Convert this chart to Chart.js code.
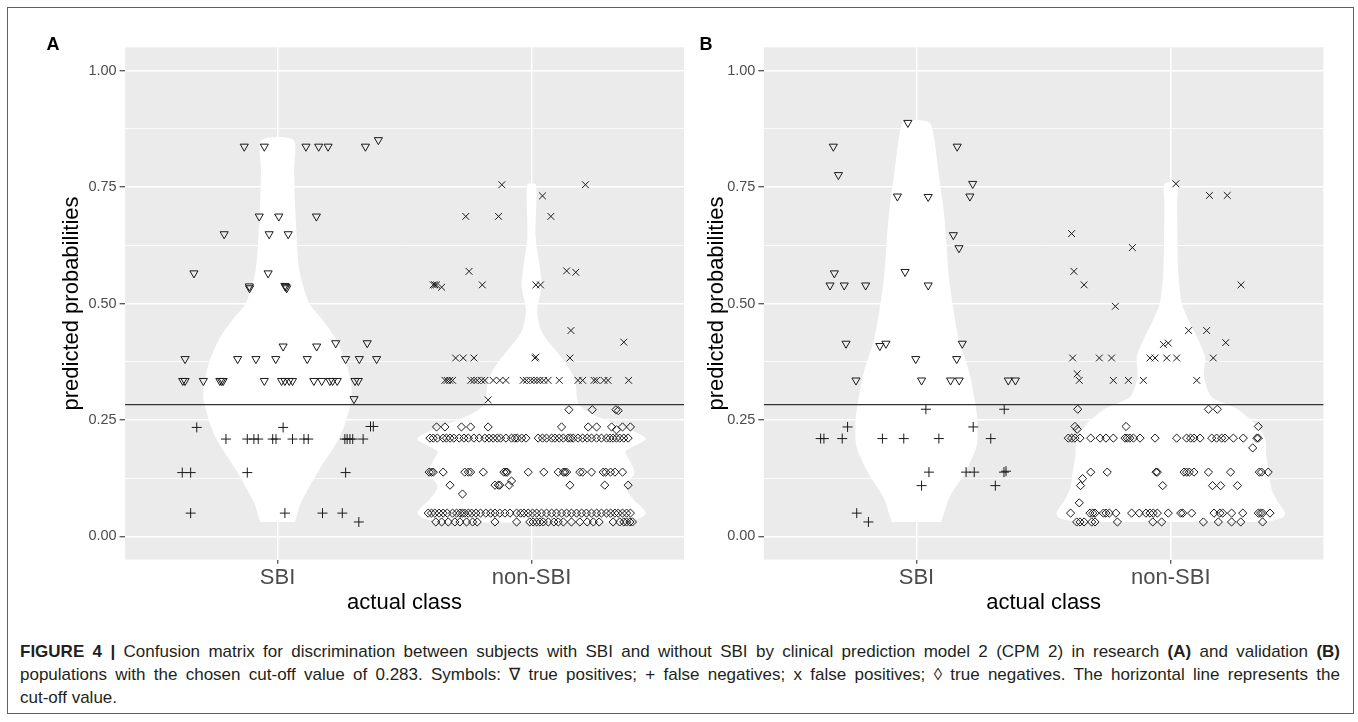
<!DOCTYPE html>
<html>
<head>
<meta charset="utf-8">
<script src="https://cdn.jsdelivr.net/npm/chart.js@4.4.1/dist/chart.umd.min.js"></script>
<style>
html,body{margin:0;padding:0;background:#fff;width:1358px;height:722px;overflow:hidden;font-family:"Liberation Sans",Arial,sans-serif;}
#frame{position:absolute;left:7px;top:7px;width:1347px;height:707px;border:1.5px solid #606060;box-sizing:border-box;}
#cA{position:absolute;left:0;top:0;}
#cB{position:absolute;left:690px;top:0;}
.lab{position:absolute;font-weight:bold;font-size:18px;line-height:18px;color:#000;}
#caption{position:absolute;left:20px;top:640px;width:1320px;font-size:17px;line-height:23px;color:#231f20;}
.jl{text-align:justify;text-align-last:justify;white-space:nowrap;}
.ll{text-align:left;white-space:nowrap;}
</style>
</head>
<body>
<div id="frame"></div>
<canvas id="cA" width="690" height="640"></canvas>
<canvas id="cB" width="668" height="640"></canvas>
<div class="lab" style="left:46.5px;top:35px;">A</div>
<div class="lab" style="left:699.5px;top:35px;">B</div>
<div id="caption">
<div class="jl"><b>FIGURE 4 |</b> Confusion matrix for discrimination between subjects with SBI and without SBI by clinical prediction model 2 (CPM 2) in research <b>(A)</b> and validation <b>(B)</b></div>
<div class="jl">populations with the chosen cut-off value of 0.283. Symbols: ∇ true positives; + false negatives; x false positives; ◊ true negatives. The horizontal line represents the</div>
<div class="ll">cut-off value.</div>
</div>
<script>
// ---------- shared axis data ----------
const categories = ['SBI', 'non-SBI'];
const yTickValues = [0, 0.25, 0.5, 0.75, 1.0];
const yTickLabels = ['0.00', '0.25', '0.50', '0.75', '1.00'];
const yMinorValues = [0.125, 0.375, 0.625, 0.875];
const cutoff = 0.283;
const xTitle = 'actual class';
const yTitle = 'predicted probabilities';

// ---------- Panel A (research) : [jittered class position, predicted probability] ----------
const tpA = [
[0.869,0.837],[0.948,0.837],[1.112,0.837],[1.162,0.837],[1.199,0.837],[1.346,0.837],[1.397,0.851],
[0.928,0.687],[1.005,0.687],[1.153,0.687],
[0.790,0.649],[0.967,0.649],[1.042,0.649],
[0.671,0.565],[0.963,0.565],
[0.889,0.537],[0.890,0.533],[1.029,0.538],[1.033,0.536],[1.036,0.533],
[1.022,0.408],[1.154,0.408],[1.229,0.415],[1.353,0.415],
[0.636,0.381],[0.843,0.381],[0.915,0.381],[0.993,0.381],[1.117,0.381],[1.268,0.381],[1.322,0.381],[1.390,0.381],
[0.627,0.334],[0.636,0.334],[0.708,0.334],[0.773,0.334],[0.780,0.334],[0.786,0.334],[0.948,0.334],[1.016,0.334],[1.029,0.334],[1.046,0.334],[1.059,0.334],[1.143,0.334],[1.174,0.334],[1.206,0.334],[1.217,0.334],[1.235,0.334],[1.305,0.334],[1.318,0.334],
[1.301,0.295]
];
const fnA = [
[0.682,0.234],[1.022,0.234],[1.366,0.236],[1.377,0.236],
[0.797,0.209],[0.881,0.209],[0.907,0.209],[0.924,0.209],[0.981,0.209],[0.994,0.209],[1.059,0.209],[1.104,0.209],[1.121,0.209],[1.265,0.209],[1.274,0.209],[1.285,0.209],[1.296,0.209],[1.337,0.209],
[0.625,0.137],[0.658,0.137],[0.881,0.137],[1.268,0.137],
[0.658,0.050],[1.029,0.050],[1.177,0.050],[1.255,0.050],
[1.320,0.031]
];
const fpA = [
[1.883,0.755],[2.212,0.755],[2.043,0.731],
[1.741,0.687],[1.870,0.687],[2.076,0.687],
[1.754,0.569],[2.138,0.570],[2.174,0.567],
[1.613,0.540],[1.619,0.540],[1.626,0.540],[1.646,0.535],[1.806,0.540],[2.017,0.540],[2.035,0.540],
[2.155,0.442],[2.363,0.417],
[1.701,0.383],[1.731,0.383],[1.773,0.383],[2.013,0.383],[2.017,0.385],[2.151,0.383],
[1.659,0.335],[1.668,0.335],[1.678,0.335],[1.689,0.335],[1.761,0.335],[1.773,0.335],[1.786,0.335],[1.803,0.335],[1.816,0.335],[1.849,0.335],[1.875,0.335],[1.899,0.335],[1.967,0.335],[1.980,0.335],[1.996,0.335],[2.009,0.335],[2.022,0.335],[2.033,0.335],[2.048,0.335],[2.065,0.335],[2.109,0.335],[2.183,0.335],[2.201,0.335],[2.246,0.335],[2.256,0.335],[2.285,0.335],[2.301,0.335],[2.382,0.335],
[1.829,0.293]
];
const tnA = [
[2.147,0.272],[2.239,0.272],[2.332,0.272],[2.341,0.270],
[1.626,0.235],[1.659,0.235],[1.724,0.235],[1.760,0.235],[1.829,0.235],[2.118,0.235],[2.223,0.235],[2.256,0.235],[2.315,0.235],[2.334,0.229],[2.358,0.235],[2.389,0.235],
[1.600,0.211],[1.613,0.211],[1.629,0.211],[1.652,0.211],[1.665,0.211],[1.679,0.211],[1.694,0.211],[1.715,0.211],[1.734,0.211],[1.751,0.211],[1.773,0.211],[1.794,0.211],[1.816,0.211],[1.833,0.211],[1.849,0.211],[1.865,0.211],[1.878,0.211],[1.899,0.211],[1.921,0.211],[1.934,0.211],[1.944,0.211],[1.961,0.211],[1.978,0.211],[2.026,0.211],[2.043,0.211],[2.059,0.211],[2.079,0.211],[2.092,0.211],[2.109,0.211],[2.125,0.211],[2.144,0.211],[2.153,0.211],[2.164,0.211],[2.183,0.211],[2.201,0.211],[2.219,0.211],[2.236,0.211],[2.256,0.211],[2.275,0.211],[2.295,0.211],[2.308,0.211],[2.321,0.211],[2.334,0.211],[2.347,0.211],[2.363,0.211],[2.380,0.211],
[1.597,0.138],[1.606,0.138],[1.613,0.138],[1.652,0.138],[1.737,0.138],[1.751,0.138],[1.760,0.138],[1.810,0.138],[1.891,0.138],[1.899,0.138],[1.904,0.138],[1.987,0.138],[2.048,0.138],[2.105,0.138],[2.125,0.138],[2.131,0.138],[2.138,0.138],[2.190,0.138],[2.201,0.138],[2.236,0.138],[2.282,0.138],[2.292,0.138],[2.311,0.138],[2.328,0.138],[2.358,0.138],
[1.679,0.110],[1.856,0.110],[1.869,0.110],[1.875,0.110],[1.912,0.110],[1.921,0.119],[2.151,0.110],[2.288,0.110],[2.380,0.110],
[1.728,0.091],
[1.593,0.050],[1.606,0.050],[1.619,0.050],[1.636,0.050],[1.652,0.050],[1.668,0.050],[1.689,0.050],[1.705,0.050],[1.718,0.050],[1.728,0.050],[1.737,0.050],[1.751,0.050],[1.764,0.050],[1.781,0.050],[1.799,0.050],[1.820,0.050],[1.839,0.050],[1.856,0.050],[1.875,0.050],[1.895,0.050],[1.915,0.050],[1.941,0.050],[1.957,0.050],[1.970,0.050],[1.987,0.050],[2.004,0.050],[2.020,0.050],[2.039,0.050],[2.059,0.050],[2.079,0.050],[2.098,0.050],[2.118,0.050],[2.138,0.050],[2.157,0.050],[2.177,0.050],[2.197,0.050],[2.216,0.050],[2.236,0.050],[2.256,0.050],[2.275,0.050],[2.295,0.050],[2.311,0.050],[2.328,0.050],[2.341,0.050],[2.358,0.050],[2.374,0.050],[2.389,0.050],
[1.623,0.031],[1.646,0.031],[1.672,0.031],[1.698,0.031],[1.718,0.031],[1.744,0.031],[1.768,0.031],[1.786,0.031],[1.856,0.031],[1.941,0.031],[1.993,0.031],[2.006,0.031],[2.020,0.031],[2.033,0.031],[2.046,0.031],[2.066,0.031],[2.088,0.031],[2.105,0.031],[2.125,0.031],[2.157,0.031],[2.190,0.031],[2.219,0.031],[2.243,0.031],[2.266,0.031],[2.321,0.031],[2.347,0.031],[2.363,0.031],[2.374,0.031],[2.387,0.031],[2.397,0.031]
];
// violin outlines (probability level, half width in class units)
const violinA_SBI_y  = [0.031, 0.072, 0.143, 0.215, 0.286, 0.322, 0.379, 0.429, 0.470, 0.501, 0.572, 0.700, 0.787, 0.851];
const violinA_SBI_hw = [0.069, 0.092, 0.164, 0.246, 0.289, 0.291, 0.266, 0.224, 0.170, 0.124, 0.086, 0.070, 0.065, 0.063];
const violinA_non_y  = [0.030, 0.040, 0.050, 0.065, 0.080, 0.107, 0.136, 0.160, 0.182, 0.209, 0.229, 0.250, 0.270, 0.286, 0.336, 0.372, 0.401, 0.422, 0.444, 0.486, 0.536, 0.572, 0.644, 0.755];
const violinA_non_hw = [0.36, 0.43, 0.45, 0.43, 0.40, 0.37, 0.405, 0.39, 0.37, 0.45, 0.39, 0.29, 0.215, 0.183, 0.171, 0.134, 0.092, 0.060, 0.036, 0.022, 0.039, 0.034, 0.016, 0.017];

// ---------- Panel B (validation) ----------
const tpB = [
[0.966,0.888],
[0.673,0.837],[1.160,0.837],[0.693,0.776],[1.221,0.757],
[0.925,0.730],[1.046,0.729],[1.210,0.730],
[1.145,0.647],[1.167,0.619],
[0.677,0.565],[0.955,0.568],
[0.660,0.539],[0.716,0.539],[0.800,0.539],[1.046,0.539],
[0.723,0.414],[0.856,0.409],[0.880,0.414],[1.180,0.414],
[0.997,0.381],[1.158,0.381],
[0.762,0.335],[1.020,0.335],[1.134,0.335],[1.168,0.335],[1.361,0.335],[1.389,0.335]
];
const fnB = [
[1.037,0.273],[1.345,0.273],
[0.729,0.235],[1.223,0.235],
[0.623,0.210],[0.636,0.210],[0.708,0.210],[0.866,0.210],[0.950,0.210],[1.088,0.210],[1.292,0.210],
[1.049,0.138],[1.195,0.138],[1.227,0.138],[1.344,0.138],[1.352,0.140],
[1.020,0.109],[1.310,0.109],
[0.765,0.050],[0.811,0.031]
];
const fpB = [
[2.020,0.757],[2.152,0.732],[2.222,0.732],
[1.610,0.650],[1.849,0.620],
[1.619,0.569],[1.659,0.540],[2.276,0.540],
[1.782,0.494],
[2.070,0.442],[2.141,0.442],[2.216,0.416],
[1.971,0.412],[1.990,0.415],
[1.614,0.383],[1.719,0.383],[1.767,0.383],[1.918,0.383],[1.938,0.383],[1.984,0.383],[2.023,0.383],[2.167,0.383],
[1.632,0.349],
[1.640,0.335],[1.774,0.335],[1.833,0.335],[1.892,0.335],[2.102,0.335]
];
const tnB = [
[1.634,0.273],[2.148,0.273],[2.183,0.273],
[1.623,0.236],[1.632,0.230],[1.824,0.236],[2.344,0.236],
[1.597,0.211],[1.610,0.211],[1.623,0.211],[1.643,0.211],[1.685,0.211],[1.722,0.211],[1.745,0.211],[1.774,0.211],[1.820,0.211],[1.829,0.211],[1.839,0.211],[1.853,0.211],[1.879,0.211],[1.938,0.211],[2.023,0.211],[2.062,0.211],[2.078,0.211],[2.091,0.211],[2.115,0.211],[2.161,0.211],[2.180,0.211],[2.200,0.211],[2.213,0.211],[2.246,0.211],[2.285,0.211],[2.338,0.211],[2.344,0.211],
[2.322,0.190],
[1.685,0.138],[1.750,0.138],[1.942,0.138],[1.947,0.138],[2.052,0.138],[2.062,0.138],[2.073,0.138],[2.091,0.138],[2.148,0.138],[2.235,0.138],[2.348,0.138],[2.357,0.138],[2.383,0.138],
[1.653,0.124],
[1.645,0.109],[1.968,0.109],[2.164,0.109],[2.196,0.109],[2.262,0.109],
[1.640,0.072],
[1.606,0.050],[1.682,0.050],[1.693,0.050],[1.702,0.050],[1.735,0.050],[1.745,0.050],[1.758,0.050],[1.784,0.050],[1.846,0.050],[1.876,0.050],[1.902,0.050],[1.918,0.050],[1.931,0.050],[1.947,0.050],[1.990,0.050],[2.039,0.050],[2.047,0.050],[2.082,0.050],[2.170,0.050],[2.193,0.050],[2.204,0.050],[2.239,0.050],[2.283,0.050],[2.344,0.050],[2.353,0.050],[2.361,0.050],[2.390,0.050],
[1.630,0.031],[1.643,0.031],[1.659,0.031],[1.689,0.031],[1.702,0.031],[1.790,0.031],[1.929,0.031],[1.964,0.031],[2.128,0.031],[2.187,0.031],[2.239,0.031],[2.275,0.031],[2.361,0.031]
];
const violinB_SBI_y  = [0.031, 0.085, 0.136, 0.193, 0.243, 0.279, 0.351, 0.422, 0.494, 0.565, 0.637, 0.708, 0.780, 0.851, 0.889];
const violinB_SBI_hw = [0.097, 0.131, 0.190, 0.236, 0.240, 0.233, 0.208, 0.167, 0.143, 0.126, 0.117, 0.105, 0.087, 0.070, 0.050];
const violinB_non_y  = [0.031, 0.040, 0.050, 0.075, 0.104, 0.140, 0.175, 0.211, 0.247, 0.275, 0.300, 0.343, 0.386, 0.429, 0.465, 0.501, 0.572, 0.715, 0.757];
const violinB_non_hw = [0.38, 0.44, 0.45, 0.42, 0.395, 0.385, 0.375, 0.37, 0.32, 0.256, 0.16, 0.131, 0.134, 0.102, 0.069, 0.043, 0.029, 0.025, 0.025];

// ---------- rendering ----------
Chart.defaults.font.family = '"Liberation Sans", Arial, sans-serif';

function toXY(arr){ return arr.map(p => ({x: p[0], y: p[1]})); }
function violinOutline(center, ys, hws){
  const pts = [];
  for (let i = 0; i < ys.length; i++) pts.push({x: center + hws[i], y: ys[i]});
  for (let i = ys.length - 1; i >= 0; i--) pts.push({x: center - hws[i], y: ys[i]});
  return pts;
}

const panelBg = {
  id: 'panelBg',
  beforeDraw(chart){
    const {ctx, chartArea: a} = chart;
    ctx.save(); ctx.fillStyle = '#EBEBEB';
    ctx.fillRect(a.left, a.top, a.right - a.left, a.bottom - a.top);
    ctx.restore();
  }
};
const cutoffLine = {
  id: 'cutoffLine',
  afterDatasetsDraw(chart){
    const {ctx, chartArea: a} = chart;
    const y = chart.scales.y.getPixelForValue(cutoff);
    ctx.save(); ctx.strokeStyle = '#333333'; ctx.lineWidth = 1.3;
    ctx.beginPath(); ctx.moveTo(a.left, y); ctx.lineTo(a.right, y); ctx.stroke();
    ctx.restore();
  }
};

function isMajor(v){ return yTickValues.indexOf(v) >= 0; }

function makePanel(canvasId, sets, geom){
  const mk = '#1a1a1a';
  const base = {type: 'scatter', showLine: false, backgroundColor: 'rgba(0,0,0,0)', pointBackgroundColor: 'rgba(0,0,0,0)',
                borderColor: mk, pointBorderColor: mk, pointBorderWidth: 1, order: 1};
  const violin = (pts) => ({type: 'scatter', data: pts, showLine: true, fill: 'shape', tension: 0.25,
                backgroundColor: '#FFFFFF', borderColor: 'rgba(0,0,0,0)', borderWidth: 0, pointRadius: 0, order: 10});
  const datasets = [
    violin(violinOutline(1, sets.vSy, sets.vSh)),
    violin(violinOutline(2, sets.vNy, sets.vNh)),
    Object.assign({}, base, {label: 'true positives', data: toXY(sets.tp), pointStyle: 'triangle', pointRotation: 180, pointRadius: 4.7}),
    Object.assign({}, base, {label: 'false negatives', data: toXY(sets.fn), pointStyle: 'cross', pointRadius: 5}),
    Object.assign({}, base, {label: 'false positives', data: toXY(sets.fp), pointStyle: 'crossRot', pointRadius: 4.8}),
    Object.assign({}, base, {label: 'true negatives', data: toXY(sets.tn), pointStyle: 'rectRot', pointRadius: 4.1})
  ];
  return new Chart(document.getElementById(canvasId), {
    type: 'scatter',
    data: {datasets},
    plugins: [panelBg, cutoffLine],
    options: {
      responsive: false, animation: false, events: [],
      layout: {padding: {top: 47.3, right: geom.rightPad, bottom: 0, left: 0}},
      plugins: {legend: {display: false}, tooltip: {enabled: false}},
      scales: {
        x: {
          type: 'linear', min: 0.4, max: 2.6,
          afterBuildTicks: s => { s.ticks = categories.map((c, i) => ({value: i + 1})); },
          afterFit: s => { s.height = 80.3; },
          ticks: {autoSkip: false, maxRotation: 0, padding: 1, color: '#4D4D4D', font: {size: 22},
                  callback: v => categories[Math.round(v) - 1]},
          grid: {color: '#FFFFFF', lineWidth: 1.5, drawTicks: true, tickLength: 4, tickColor: '#333333', tickWidth: 1.1},
          border: {display: false},
          title: {display: true, text: xTitle, color: '#000000', font: {size: 22}, padding: {top: 0, bottom: 23.5}}
        },
        y: {
          type: 'linear', min: -0.05, max: 1.05,
          afterBuildTicks: s => { s.ticks = yTickValues.concat(yMinorValues).sort((a, b) => a - b).map(v => ({value: v})); },
          afterFit: s => { s.width = geom.yWidth; },
          ticks: {autoSkip: false, padding: 3, color: '#4D4D4D', font: {size: 14.5},
                  callback: v => { const i = yTickValues.indexOf(v); return i >= 0 ? yTickLabels[i] : ''; }},
          grid: {color: '#FFFFFF',
                 lineWidth: c => (c.tick && isMajor(c.tick.value)) ? 1.5 : 0.8,
                 drawTicks: true, tickLength: 5.5, tickWidth: 1.1,
                 tickColor: c => (c.tick && isMajor(c.tick.value)) ? '#333333' : 'rgba(0,0,0,0)'},
          border: {display: false},
          title: {display: true, text: yTitle, color: '#000000', font: {size: 22}, padding: {top: geom.yTitlePad, bottom: 0}}
        }
      }
    }
  });
}

makePanel('cA', {tp: tpA, fn: fnA, fp: fpA, tn: tnA,
                 vSy: violinA_SBI_y, vSh: violinA_SBI_hw, vNy: violinA_non_y, vNh: violinA_non_hw},
          {rightPad: 5.8, yWidth: 125.1, yTitlePad: 58.4});
makePanel('cB', {tp: tpB, fn: fnB, fp: fpB, tn: tnB,
                 vSy: violinB_SBI_y, vSh: violinB_SBI_hw, vNy: violinB_non_y, vNh: violinB_non_hw},
          {rightPad: 34.6, yWidth: 73.9, yTitlePad: 13.6});
</script>
</body>
</html>
